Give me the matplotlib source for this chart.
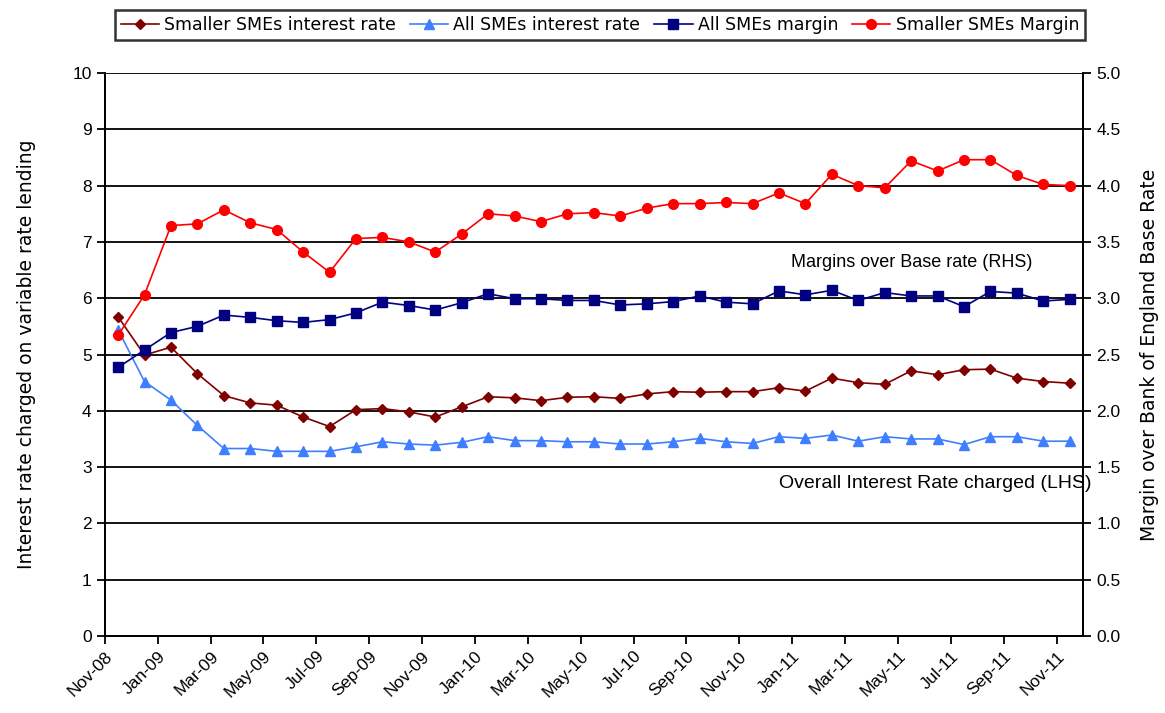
import matplotlib.pyplot as plt
import numpy as np
import pandas as pd

plt.rcParams['font.family'] = ['Liberation Sans', 'DejaVu Sans']

# monthly observations, Nov-08 .. Nov-11
months = pd.date_range('2008-11-01', '2011-11-01', freq='MS')
month_labels = [m.strftime('%b-%y') for m in months]

# interest rates (LHS, %)
smaller_rate = [5.67, 4.99, 5.13, 4.66, 4.27, 4.14, 4.10, 3.89, 3.72, 4.02, 4.04, 3.98, 3.89,
                4.07, 4.25, 4.23, 4.18, 4.24, 4.25, 4.22, 4.30, 4.34, 4.33, 4.34, 4.34,
                4.41, 4.35, 4.58, 4.50, 4.47, 4.71, 4.64, 4.73, 4.74, 4.58, 4.52, 4.49]
all_rate = [5.44, 4.52, 4.19, 3.74, 3.33, 3.33, 3.28, 3.28, 3.28, 3.36, 3.45, 3.41, 3.39,
            3.44, 3.54, 3.47, 3.47, 3.45, 3.45, 3.41, 3.41, 3.45, 3.51, 3.45, 3.42,
            3.54, 3.51, 3.57, 3.46, 3.54, 3.50, 3.50, 3.40, 3.54, 3.54, 3.46, 3.46]

# margins over base rate (RHS, %)
all_margin = [2.385, 2.54, 2.695, 2.75, 2.85, 2.83, 2.80, 2.785, 2.81, 2.87, 2.965, 2.935, 2.895,
              2.96, 3.04, 2.995, 2.995, 2.98, 2.98, 2.94, 2.95, 2.97, 3.02, 2.965, 2.95,
              3.065, 3.03, 3.07, 2.98, 3.05, 3.02, 3.02, 2.925, 3.06, 3.045, 2.975, 2.99]
smaller_margin = [2.67, 3.03, 3.645, 3.66, 3.785, 3.67, 3.61, 3.41, 3.23, 3.53, 3.54, 3.50, 3.41,
                  3.57, 3.75, 3.73, 3.68, 3.75, 3.76, 3.73, 3.80, 3.84, 3.84, 3.85, 3.84,
                  3.935, 3.84, 4.10, 4.00, 3.98, 4.22, 4.13, 4.23, 4.23, 4.09, 4.01, 4.00]

# points sit in the middle of each month slot
x = np.arange(len(months)) + 0.5

fig = plt.figure(figsize=(11.65, 7.13), dpi=100)
ax = fig.add_axes([0.090, 0.108, 0.8396, 0.7896])
ax2 = ax.twinx()

l1, = ax.plot(x, smaller_rate, color='#800000', marker='D', markersize=5, lw=1.2,
              label='Smaller SMEs interest rate')
l2, = ax.plot(x, all_rate, color='#3f7fff', marker='^', markersize=6.5, lw=1.2,
              label='All SMEs interest rate')
l3, = ax2.plot(x, all_margin, color='#000080', marker='s', markersize=6.5, lw=1.2,
               label='All SMEs margin')
l4, = ax2.plot(x, smaller_margin, color='#ff0000', marker='o', markersize=7, lw=1.2,
               label='Smaller SMEs Margin')

ax.set_xlim(0, len(months))
ax.set_ylim(0, 10)
ax.set_yticks(range(0, 11))
ax2.set_ylim(0, 5)
ax2.set_yticks(np.arange(0, 5.01, 0.5))
ax2.set_yticklabels([f'{v:.1f}' for v in np.arange(0, 5.01, 0.5)])

ax.set_xticks(np.arange(0, len(months), 2))
ax.set_xticklabels(month_labels[::2], rotation=45, ha='right', rotation_mode='anchor')

ax.grid(axis='y', color='black', lw=1.3)
ax.set_axisbelow(True)
for a in (ax, ax2):
    a.spines['top'].set_visible(False)
    for s in ('left', 'right', 'bottom'):
        a.spines[s].set_linewidth(1.3)
ax.tick_params(axis='both', labelsize=12.5, length=6, width=1.3, direction='out')
ax2.tick_params(axis='y', labelsize=12.5, length=6, width=1.3, direction='out')
ax.tick_params(axis='x', pad=3)

ax.set_ylabel('Interest rate charged on variable rate lending', fontsize=13.5,
              family='DejaVu Sans', labelpad=26)
ax2.set_ylabel('Margin over Bank of England Base Rate', fontsize=13.5,
               family='DejaVu Sans', labelpad=14)

ax.text(0.948, 6.64, 'Margins over Base rate (RHS)', transform=ax.get_yaxis_transform(),
        ha='right', va='center', fontsize=13)
ax.text(1.009, 2.70, 'Overall Interest Rate charged (LHS)', transform=ax.get_yaxis_transform(),
        ha='right', va='center', fontsize=14)

leg = fig.legend(handles=[l1, l2, l3, l4], loc='center', bbox_to_anchor=(0.515, 0.965),
                 ncol=4, prop={'family': 'DejaVu Sans', 'size': 12.5}, frameon=True,
                 fancybox=False, edgecolor='black', handlelength=2.2, handletextpad=0.3,
                 columnspacing=0.8, borderpad=0.35)
leg.get_frame().set_linewidth(1.8)

fig.savefig('out.png', dpi=100)
